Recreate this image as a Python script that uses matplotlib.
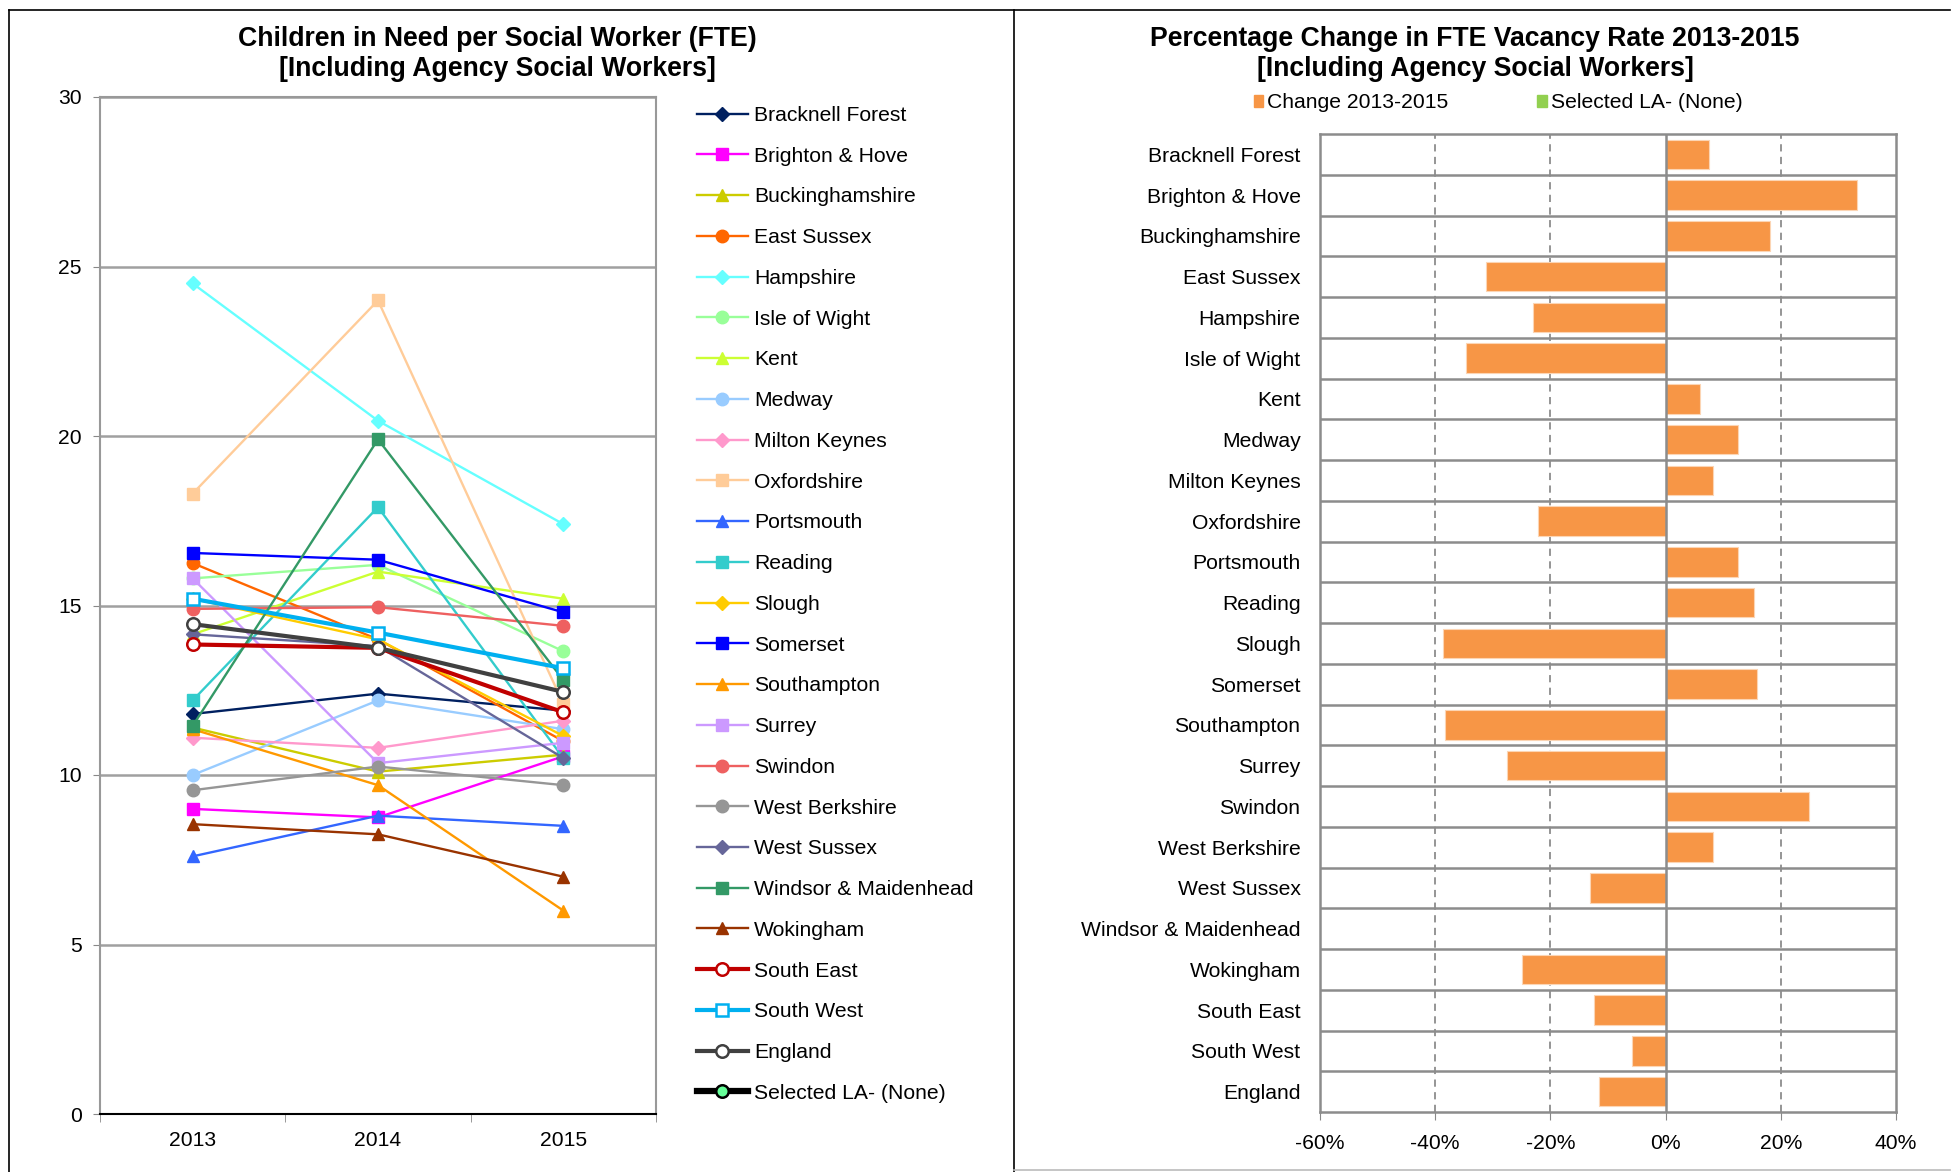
import matplotlib.pyplot as plt
from matplotlib.lines import Line2D
from matplotlib.patches import Patch
import numpy as np

plt.rcParams['font.family'] = ['Liberation Sans', 'DejaVu Sans']

# children in need per social worker (FTE), 2013-2015
years = ['2013', '2014', '2015']

bracknell_forest = [11.8, 12.4, 11.9]
brighton_hove = [9.0, 8.75, 10.55]
buckinghamshire = [11.4, 10.1, 10.6]
east_sussex = [16.25, 14.0, 11.0]
hampshire = [24.5, 20.45, 17.4]
isle_of_wight = [15.8, 16.2, 13.65]
kent = [14.15, 16.0, 15.2]
medway = [10.0, 12.2, 11.35]
milton_keynes = [11.1, 10.8, 11.6]
oxfordshire = [18.3, 24.0, 12.1]
portsmouth = [7.6, 8.8, 8.5]
reading = [12.2, 17.9, 10.5]
slough = [15.2, 14.0, 11.15]
somerset = [16.55, 16.35, 14.8]
southampton = [11.35, 9.7, 6.0]
surrey = [15.8, 10.35, 10.95]
swindon = [14.9, 14.95, 14.4]
west_berkshire = [9.55, 10.25, 9.7]
west_sussex = [14.15, 13.8, 10.5]
windsor_maidenhead = [11.45, 19.9, 12.8]
wokingham = [8.55, 8.25, 7.0]
south_east = [13.85, 13.75, 11.85]
south_west = [15.2, 14.2, 13.15]
england = [14.45, 13.75, 12.45]
selected_la = [np.nan, np.nan, np.nan]

# percentage change in FTE vacancy rate 2013-2015
bar_labels = ['Bracknell Forest', 'Brighton & Hove', 'Buckinghamshire', 'East Sussex',
              'Hampshire', 'Isle of Wight', 'Kent', 'Medway', 'Milton Keynes',
              'Oxfordshire', 'Portsmouth', 'Reading', 'Slough', 'Somerset',
              'Southampton', 'Surrey', 'Swindon', 'West Berkshire', 'West Sussex',
              'Windsor & Maidenhead', 'Wokingham', 'South East', 'South West', 'England']
change_2013_2015 = [7.6, 33.3, 18.1, -31.1, -23.0, -34.7, 5.9, 12.6, 8.3, -22.1,
                    12.6, 15.4, -38.6, 15.8, -38.3, -27.6, 24.9, 8.3, -13.2, 0.0,
                    -24.9, -12.4, -5.8, -11.6]

# name, values, colour, marker, marker face, line width
series = [
    ('Bracknell Forest', bracknell_forest, '#002060', 'D', None, 1.7),
    ('Brighton & Hove', brighton_hove, '#FF00FF', 's', None, 1.7),
    ('Buckinghamshire', buckinghamshire, '#CCCC00', '^', None, 1.7),
    ('East Sussex', east_sussex, '#FF6600', 'o', None, 1.7),
    ('Hampshire', hampshire, '#66FFFF', 'D', None, 1.7),
    ('Isle of Wight', isle_of_wight, '#99FF99', 'o', None, 1.7),
    ('Kent', kent, '#CCFF33', '^', None, 1.7),
    ('Medway', medway, '#99CCFF', 'o', None, 1.7),
    ('Milton Keynes', milton_keynes, '#FF99CC', 'D', None, 1.7),
    ('Oxfordshire', oxfordshire, '#FFCC99', 's', None, 1.7),
    ('Portsmouth', portsmouth, '#3366FF', '^', None, 1.7),
    ('Reading', reading, '#33CCCC', 's', None, 1.7),
    ('Slough', slough, '#FFCC00', 'D', None, 1.7),
    ('Somerset', somerset, '#0000FF', 's', None, 1.7),
    ('Southampton', southampton, '#FF9900', '^', None, 1.7),
    ('Surrey', surrey, '#CC99FF', 's', None, 1.7),
    ('Swindon', swindon, '#EE6060', 'o', None, 1.7),
    ('West Berkshire', west_berkshire, '#969696', 'o', None, 1.7),
    ('West Sussex', west_sussex, '#666699', 'D', None, 1.7),
    ('Windsor & Maidenhead', windsor_maidenhead, '#339966', 's', None, 1.7),
    ('Wokingham', wokingham, '#993300', '^', None, 1.7),
    ('South East', south_east, '#C00000', 'o', 'white', 3.0),
    ('South West', south_west, '#00B0F0', 's', 'white', 3.0),
    ('England', england, '#404040', 'o', 'white', 3.0),
    ('Selected LA- (None)', selected_la, '#000000', 'o', '#66FF99', 4.5),
]
marker_size = {'D': 7.5, '^': 9, 's': 8.5, 'o': 9}

W, H = 1952, 1172
fig = plt.figure(figsize=(W / 100, H / 100), dpi=100)

# panel frames
fig.add_artist(Line2D([9 / W, 9 / W], [0, 1 - 10 / H], color='black', lw=1.2))
fig.add_artist(Line2D([9 / W, 1 - 2 / W], [1 - 10 / H, 1 - 10 / H], color='black', lw=1.2))
fig.add_artist(Line2D([1014 / W, 1014 / W], [0, 1 - 10 / H], color='black', lw=1.2))
fig.add_artist(Line2D([1014 / W, 1 - 2 / W], [2 / H, 2 / H], color='#BBBBBB', lw=1.2))

grid_grey = '#A0A0A0'
fs = 15.2

# ---- left: line chart ----
ax = fig.add_axes([100 / W, 1 - 1114 / H, 556 / W, 1017 / H])
x = np.arange(len(years))
handles = []
for name, vals, col, mk, face, lw in series:
    h, = ax.plot(x, vals, color=col, lw=lw, marker=mk, ms=marker_size[mk],
                 mfc=face if face else col,
                 mec='black' if face == '#66FF99' else col,
                 mew=1.8 if face else 1.0, zorder=3)
    handles.append(h)

ax.set_xlim(-0.5, 2.5)
ax.set_ylim(0, 30)
ax.set_yticks(np.arange(0, 31, 5))
ax.yaxis.grid(True, color=grid_grey, lw=1.8)
ax.set_axisbelow(True)
ax.set_xticks(x)
ax.set_xticklabels(years)
ax.set_xticks([-0.5, 0.5, 1.5, 2.5], minor=True)
ax.tick_params(axis='x', which='major', length=0, pad=12, labelsize=fs)
ax.tick_params(axis='x', which='minor', length=6, color='#888888')
ax.tick_params(axis='y', length=5, color='#888888', pad=8, labelsize=fs)
for s in ('left', 'right', 'top'):
    ax.spines[s].set_color('#999999')
    ax.spines[s].set_linewidth(1.5)
ax.spines['bottom'].set_color('black')
ax.spines['bottom'].set_linewidth(1.5)

fig.text(497 / W, 1 - 38.5 / H, 'Children in Need per Social Worker (FTE)',
         ha='center', va='center', fontsize=19.2, fontweight='bold')
fig.text(497 / W, 1 - 69.5 / H, '[Including Agency Social Workers]',
         ha='center', va='center', fontsize=19.2, fontweight='bold')

fig.legend(handles, [s[0] for s in series], loc='upper left',
           bbox_to_anchor=(697 / W, 1 - 106 / H), frameon=False, fontsize=fs,
           handlelength=2.4, handletextpad=0.3, labelspacing=1.03,
           borderpad=0, borderaxespad=0)

# ---- right: horizontal bar chart ----
ax2 = fig.add_axes([1320 / W, 1 - 1112 / H, 576 / W, 978 / H])
pos = np.arange(len(bar_labels))
ax2.barh(pos, change_2013_2015, height=0.72, color='#F79646',
         edgecolor='#FCD5B4', lw=0.8, zorder=2)
ax2.set_ylim(len(bar_labels) - 0.5, -0.5)
ax2.set_xlim(-60, 40)
ax2.set_yticks(pos)
ax2.set_yticklabels(bar_labels)
ax2.set_xticks(np.arange(-60, 41, 20))
ax2.set_xticklabels([f'{v}%' for v in range(-60, 41, 20)])
ax2.tick_params(axis='y', length=0, pad=14, labelsize=fs)
ax2.tick_params(axis='x', length=6, color='#888888', pad=10, labelsize=fs)
for b in pos[:-1] + 0.5:
    ax2.axhline(b, color='#8C8C8C', lw=1.8, zorder=1)
for v in (-40, -20, 20):
    ax2.axvline(v, color='#8C8C8C', lw=1.3, ls=(0, (4, 3)), zorder=1)
ax2.axvline(0, color='#8C8C8C', lw=1.8, zorder=3)
for s in ax2.spines.values():
    s.set_color('#8C8C8C')
    s.set_linewidth(1.8)

fig.text(1475 / W, 1 - 38.5 / H, 'Percentage Change in FTE Vacancy Rate 2013-2015',
         ha='center', va='center', fontsize=19.2, fontweight='bold')
fig.text(1475 / W, 1 - 69.5 / H, '[Including Agency Social Workers]',
         ha='center', va='center', fontsize=19.2, fontweight='bold')

bar_handles = [Patch(color='#F79646'), Patch(color='#92D050')]
fig.legend(bar_handles, ['Change 2013-2015', 'Selected LA- (None)'], loc='center',
           bbox_to_anchor=(1498 / W, 1 - 103 / H), ncol=2, frameon=False,
           fontsize=fs, handlelength=0.45, handleheight=0.45, handletextpad=0.2,
           columnspacing=4.2, borderpad=0, borderaxespad=0)

fig.savefig('out.png', dpi=100, facecolor='white')
